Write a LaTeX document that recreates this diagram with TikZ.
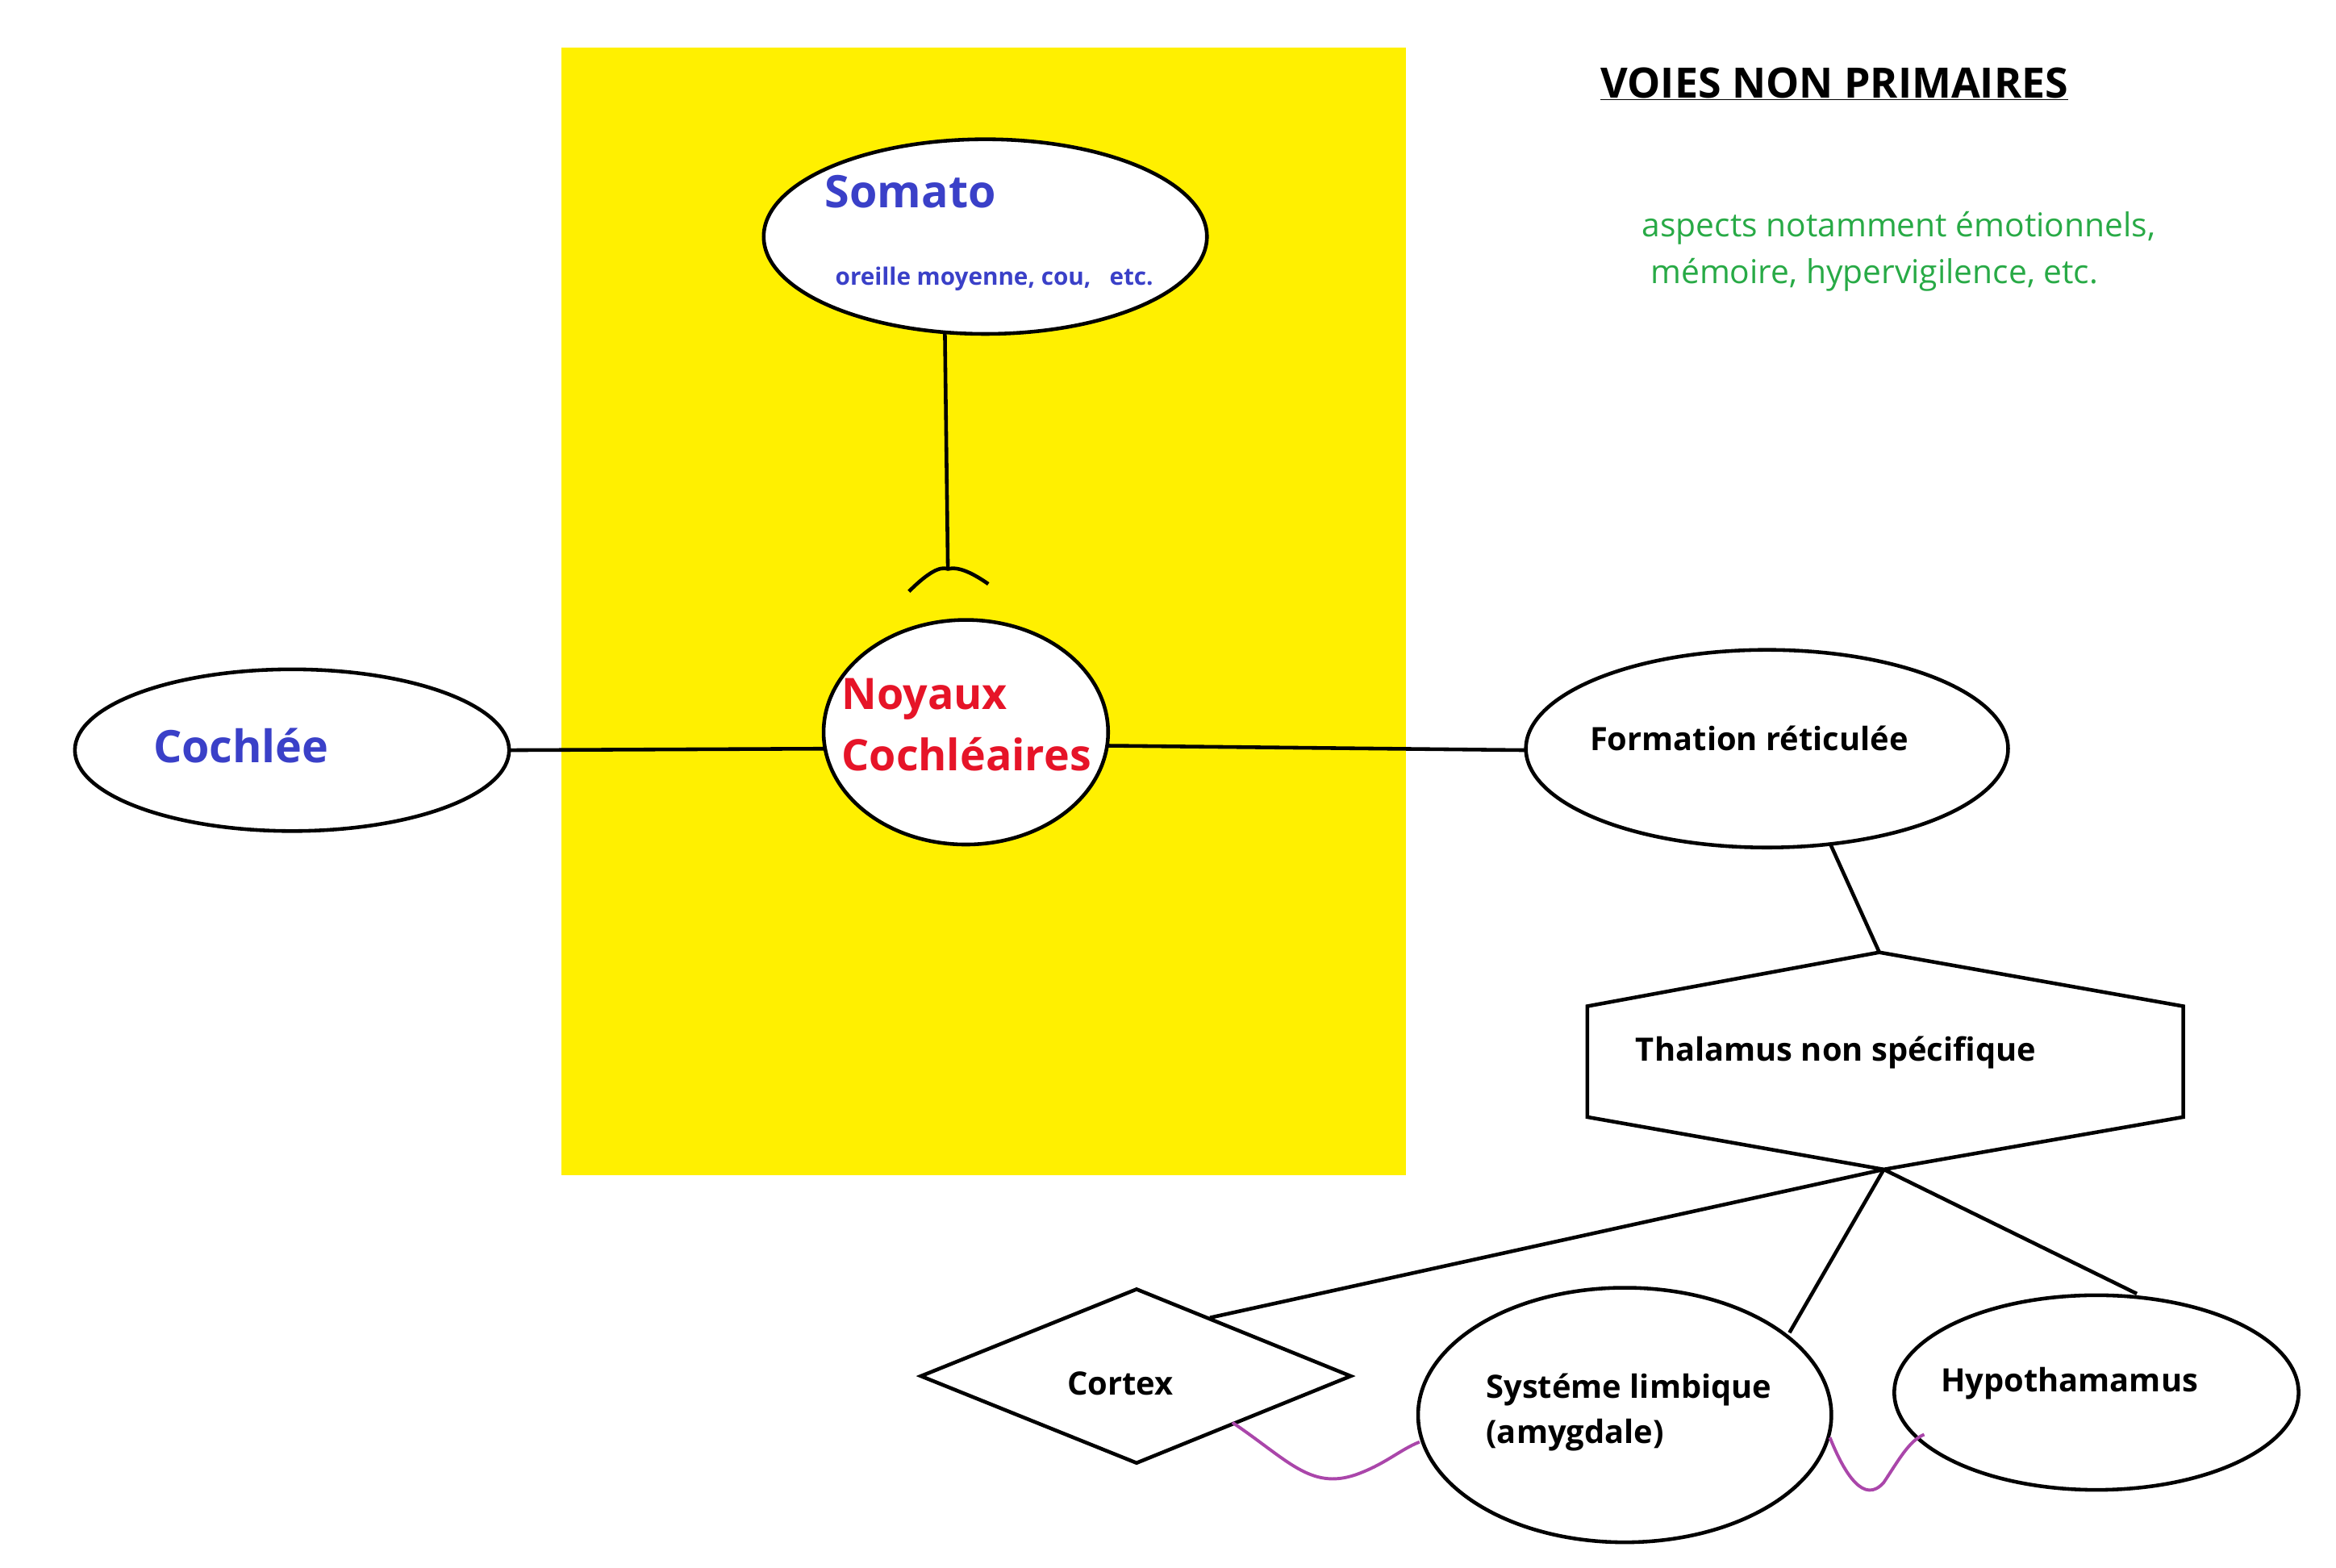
\documentclass[tikz,border=0pt]{standalone}
\usepackage{fontspec}
\setmainfont{Open Sans}
\usetikzlibrary{shapes.geometric}
\newcommand{\fsz}[1]{\fontsize{\dimexpr #1pt*142/100\relax}{\dimexpr #1pt*200/100\relax}\selectfont}
\definecolor{myblue}{RGB}{58,64,200}
\definecolor{myred}{RGB}{230,20,40}
\definecolor{mygreen}{RGB}{40,170,70}
\definecolor{mypurple}{RGB}{170,70,170}
\begin{document}
\begin{tikzpicture}[x=0.05cm,y=-0.05cm,
  ln/.style={line width=3.5pt}]
\useasboundingbox (0,0) rectangle (1560,1047);
\fill[fill={rgb,255:red,255;green,240;blue,0}] (375,32) rectangle (939,785);
% shapes
\draw[ln,fill=white] (658,158) ellipse [x radius=148,y radius=65];
\coordinate (somB) at (631,222);
\draw[ln,fill=white] (645,489) ellipse [x radius=95,y radius=75];
\draw[ln] (195,501) ellipse [x radius=145,y radius=54];
\draw[ln] (1180,500) ellipse [x radius=161,y radius=66];
\draw[ln] (1085,945) ellipse [x radius=138,y radius=85];
\draw[ln] (1400,930) ellipse [x radius=135,y radius=65];
\draw[ln] (1255,636)--(1458,672)--(1458,746)--(1258,781)--(1060,746)--(1060,672)--cycle;
\draw[ln] (615,919)--(759,861)--(902,919)--(759,977)--cycle;
% text
\node[text=myblue,font=\bfseries\fsz{30}] (som) at (608,128) {Somato};
\node[text=myblue,font=\bfseries\fsz{16}] (som2) at (664,186) {oreille moyenne, cou,\ \ \ etc.};
\node[text=myred,font=\bfseries\fsz{29},align=left,anchor=west,inner sep=0pt] (noy) at (562,484) {Noyaux\\Cochléaires};
\node[text=myblue,font=\bfseries\fsz{30}] (coc) at (161,498) {Cochlée};
\node[font=\bfseries\fsz{21.5}] (form) at (1168,493) {Formation réticulée};
\node[font=\bfseries\fsz{21.5}] (thal) at (1226,703) {Thalamus non spécifique};
\node[font=\bfseries\fsz{21.5}] (cort) at (748,924) {Cortex};
\node[font=\bfseries\fsz{21.5},align=left,anchor=west] (lim) at (990,943) {Systéme limbique\\(amygdale)};
\node[font=\bfseries\fsz{21.5}] (hyp) at (1382,924) {Hypothamamus};
\node[font=\bfseries\fsz{28}] (title) at (1225,56) {\underline{VOIES NON PRIMAIRES}};
\node[text=mygreen,font=\fsz{22},align=left] (green) at (1268,168) {aspects notamment émotionnels,\\\ mémoire, hypervigilence, etc.};
% connectors
\coordinate (cap) at (633,380);
\draw[ln] (somB)--(cap);
\draw[ln] (607,395) .. controls (620,382) and (628,378) .. (cap) .. controls (640,378) and (650,383) .. (660,390);
\draw[ln] (340,501)--(550,500);
\draw[ln] (740,498)--(1020,501);
\draw[ln] (1222,563)--(1255,636);
\coordinate (tb) at (1258,781);
\draw[ln] (tb)--(808,880);
\draw[ln] (tb)--(1195,890);
\draw[ln] (tb)--(1427,864);
\draw[mypurple,line width=3pt] (823,950) .. controls (860,975) and (875,995) .. (905,985) .. controls (925,978) and (935,968) .. (948,963);
\draw[mypurple,line width=3pt] (1222,960) .. controls (1232,985) and (1245,1005) .. (1258,990) .. controls (1268,975) and (1275,962) .. (1285,958);
\end{tikzpicture}
\end{document}
